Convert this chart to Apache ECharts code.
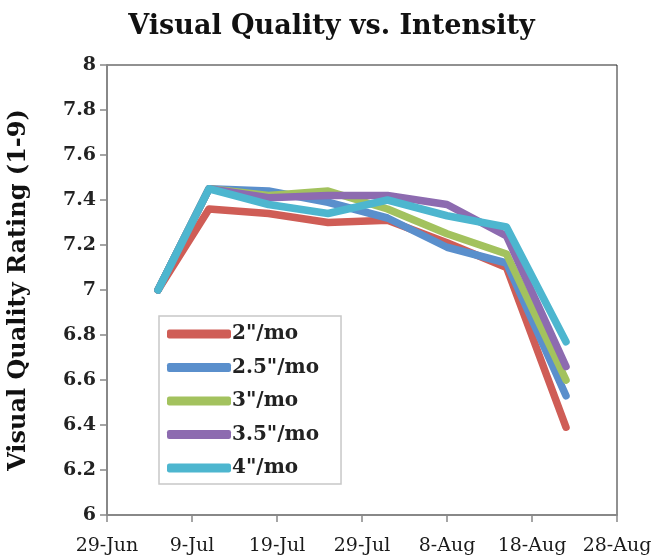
<!DOCTYPE html>
<html>
<head>
<meta charset="utf-8">
<script src="https://cdn.jsdelivr.net/npm/echarts@6/dist/echarts.min.js"></script>
<style>html,body{margin:0;padding:0;background:#fff}#c{width:663px;height:560px}</style>
</head>
<body>
<div id="c"></div>
<script>
var dates = ['2012-07-05','2012-07-11','2012-07-18','2012-07-25','2012-08-01','2012-08-08','2012-08-15','2012-08-22'];
var seriesNames = ['2"/mo','2.5"/mo','3"/mo','3.5"/mo','4"/mo'];
var s2   = [7.00, 7.36, 7.34, 7.30, 7.31, 7.21, 7.10, 6.39];
var s25  = [7.00, 7.45, 7.44, 7.39, 7.32, 7.19, 7.12, 6.53];
var s3   = [7.00, 7.45, 7.42, 7.44, 7.36, 7.25, 7.16, 6.60];
var s35  = [7.00, 7.45, 7.41, 7.42, 7.42, 7.38, 7.24, 6.66];
var s4   = [7.00, 7.45, 7.38, 7.34, 7.40, 7.33, 7.28, 6.77];
var xTickLabels = ['29-Jun','9-Jul','19-Jul','29-Jul','8-Aug','18-Aug','28-Aug'];
var yTicks = {min: 6, max: 8, step: 0.2};
var colors = ['#CF5D56','#5A8FCC','#A3C25E','#8D6BB0','#4DB6CF'];

var origin = Date.UTC(2012, 5, 29);
function dayOffset(s){ var p = s.split('-'); return (Date.UTC(+p[0], +p[1]-1, +p[2]) - origin) / 86400000; }
function pairs(vals){ return dates.map(function(d,i){ return [dayOffset(d), vals[i]]; }); }
var allVals = [s2, s25, s3, s35, s4];
var serif = '"DejaVu Serif", serif';

var chart = echarts.init(document.getElementById('c'), null, {renderer:'canvas'});
chart.setOption({
  animation: false,
  backgroundColor: '#fff',
  title: {
    text: 'Visual Quality vs. Intensity',
    left: 'center', top: 8,
    textStyle: {fontFamily: serif, fontWeight: 'bold', fontSize: 27, color: '#111'}
  },
  legend: {
    orient: 'vertical', left: 159, top: 316,
    padding: [8, 22, 6, 8],
    itemWidth: 64, itemHeight: 9, itemGap: 13.5,
    icon: 'roundRect',
    borderColor: '#c8c8c8', borderWidth: 1.5, backgroundColor: '#fff',
    textStyle: {fontFamily: serif, fontSize: 20, fontWeight: 'bold', color: '#222', padding: [0,0,0,-4]},
    data: seriesNames
  },
  grid: {left: 107, right: 46, top: 65, bottom: 45, show: true, borderColor: '#222', borderWidth: 1, outerBoundsMode: 'none', containLabel: false},
  xAxis: {
    type: 'value', min: 0, max: 60, interval: 10,
    axisLine: {show: true, lineStyle: {color: '#888', width: 2}},
    axisTick: {show: true, length: 7, lineStyle: {color: '#888', width: 1.5}},
    splitLine: {show: false},
    axisLabel: {
      fontFamily: serif, fontSize: 19, color: '#1a1a1a', margin: 22,
      formatter: function(v){ return xTickLabels[Math.round(v/10)]; }
    }
  },
  yAxis: {
    type: 'value', min: yTicks.min, max: yTicks.max, interval: yTicks.step,
    name: 'Visual Quality Rating (1-9)', nameLocation: 'middle', nameGap: 76,
    nameTextStyle: {fontFamily: serif, fontWeight: 'bold', fontSize: 24, color: '#111'},
    axisLine: {show: true, lineStyle: {color: '#888', width: 2}},
    axisTick: {show: true, length: 7, lineStyle: {color: '#888', width: 1.5}},
    splitLine: {show: false},
    axisLabel: {fontFamily: serif, fontSize: 19, fontWeight: 'bold', color: '#222', margin: 11}
  },
  series: seriesNames.map(function(n, i){
    return {
      name: n, type: 'line', data: pairs(allVals[i]),
      showSymbol: false, symbol: 'none',
      itemStyle: {color: colors[i]},
      lineStyle: {color: colors[i], width: 7.5, cap: 'round', join: 'round'}
    };
  })
});
</script>
</body>
</html>
